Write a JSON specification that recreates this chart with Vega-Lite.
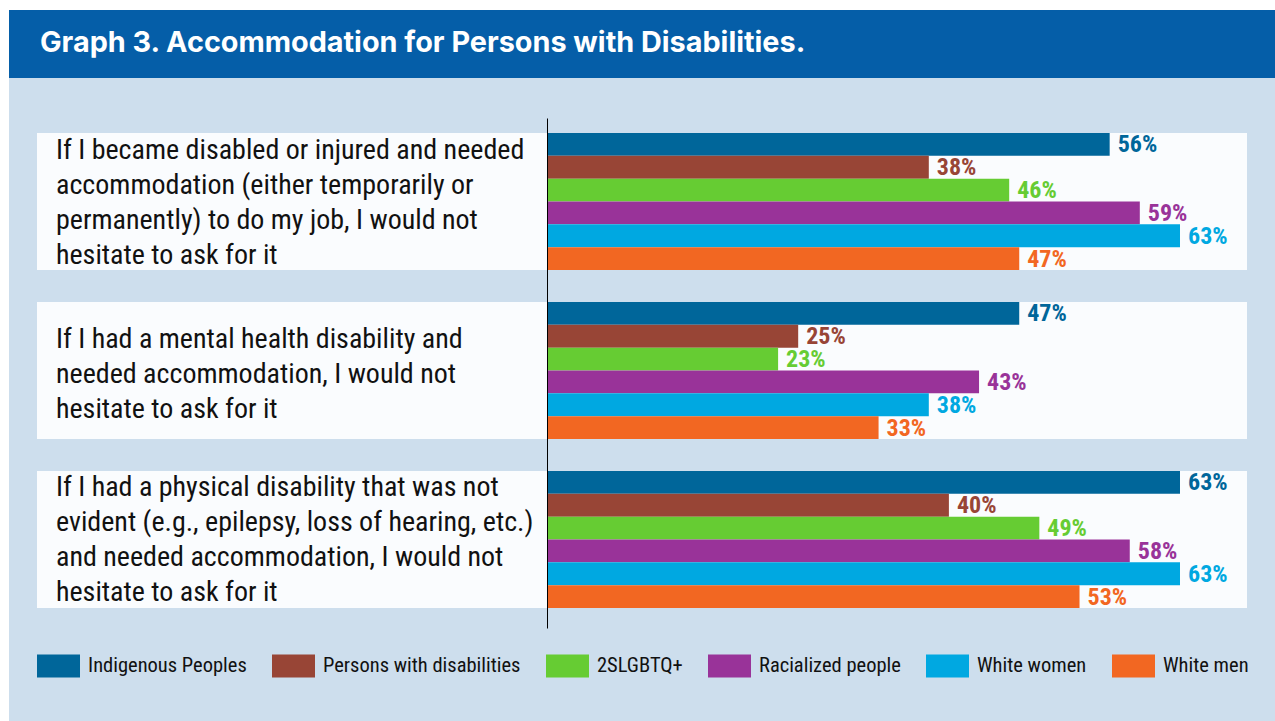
{
  "$schema": "https://vega.github.io/schema/vega-lite/v6.json",
  "autosize": {"type": "pad"},
  "padding": {"left": 9, "top": 10, "right": 0, "bottom": 0},
  "background": "#ffffff",
  "spacing": 0,
  "datasets": {
    "questions": [
      {"id": "q1", "question": "If I became disabled or injured and needed\naccommodation (either temporarily or\npermanently) to do my job, I would not\nhesitate to ask for it"},
      {"id": "q2", "question": "If I had a mental health disability and\nneeded accommodation, I would not\nhesitate to ask for it"},
      {"id": "q3", "question": "If I had a physical disability that was not\nevident (e.g., epilepsy, loss of hearing, etc.)\nand needed accommodation, I would not\nhesitate to ask for it"}
    ],
    "results": [
      {"question": "If I became disabled or injured and needed\naccommodation (either temporarily or\npermanently) to do my job, I would not\nhesitate to ask for it", "group": "Indigenous Peoples", "value": 0.56},
      {"question": "If I became disabled or injured and needed\naccommodation (either temporarily or\npermanently) to do my job, I would not\nhesitate to ask for it", "group": "Persons with disabilities", "value": 0.38},
      {"question": "If I became disabled or injured and needed\naccommodation (either temporarily or\npermanently) to do my job, I would not\nhesitate to ask for it", "group": "2SLGBTQ+", "value": 0.46},
      {"question": "If I became disabled or injured and needed\naccommodation (either temporarily or\npermanently) to do my job, I would not\nhesitate to ask for it", "group": "Racialized people", "value": 0.59},
      {"question": "If I became disabled or injured and needed\naccommodation (either temporarily or\npermanently) to do my job, I would not\nhesitate to ask for it", "group": "White women", "value": 0.63},
      {"question": "If I became disabled or injured and needed\naccommodation (either temporarily or\npermanently) to do my job, I would not\nhesitate to ask for it", "group": "White men", "value": 0.47},
      {"question": "If I had a mental health disability and\nneeded accommodation, I would not\nhesitate to ask for it", "group": "Indigenous Peoples", "value": 0.47},
      {"question": "If I had a mental health disability and\nneeded accommodation, I would not\nhesitate to ask for it", "group": "Persons with disabilities", "value": 0.25},
      {"question": "If I had a mental health disability and\nneeded accommodation, I would not\nhesitate to ask for it", "group": "2SLGBTQ+", "value": 0.23},
      {"question": "If I had a mental health disability and\nneeded accommodation, I would not\nhesitate to ask for it", "group": "Racialized people", "value": 0.43},
      {"question": "If I had a mental health disability and\nneeded accommodation, I would not\nhesitate to ask for it", "group": "White women", "value": 0.38},
      {"question": "If I had a mental health disability and\nneeded accommodation, I would not\nhesitate to ask for it", "group": "White men", "value": 0.33},
      {"question": "If I had a physical disability that was not\nevident (e.g., epilepsy, loss of hearing, etc.)\nand needed accommodation, I would not\nhesitate to ask for it", "group": "Indigenous Peoples", "value": 0.63},
      {"question": "If I had a physical disability that was not\nevident (e.g., epilepsy, loss of hearing, etc.)\nand needed accommodation, I would not\nhesitate to ask for it", "group": "Persons with disabilities", "value": 0.40},
      {"question": "If I had a physical disability that was not\nevident (e.g., epilepsy, loss of hearing, etc.)\nand needed accommodation, I would not\nhesitate to ask for it", "group": "2SLGBTQ+", "value": 0.49},
      {"question": "If I had a physical disability that was not\nevident (e.g., epilepsy, loss of hearing, etc.)\nand needed accommodation, I would not\nhesitate to ask for it", "group": "Racialized people", "value": 0.58},
      {"question": "If I had a physical disability that was not\nevident (e.g., epilepsy, loss of hearing, etc.)\nand needed accommodation, I would not\nhesitate to ask for it", "group": "White women", "value": 0.63},
      {"question": "If I had a physical disability that was not\nevident (e.g., epilepsy, loss of hearing, etc.)\nand needed accommodation, I would not\nhesitate to ask for it", "group": "White men", "value": 0.53}
    ]
  },
  "vconcat": [
    {
      "width": 1266,
      "height": 68,
      "view": {"fill": "#055EA8", "stroke": null},
      "data": {"values": [{"title": "Graph 3. Accommodation for Persons with Disabilities."}]},
      "mark": {"type": "text", "align": "left", "baseline": "middle", "x": 31, "dy": -1, "font": "Inter", "fontWeight": "bold", "fontSize": 28.8, "color": "#ffffff"},
      "encoding": {"text": {"field": "title", "type": "nominal"}}
    },
    {
      "width": 1266,
      "height": 643,
      "view": {"fill": "#CDDEED", "stroke": null},
      "encoding": {
        "y": {
          "field": "question", "type": "nominal", "sort": null,
          "scale": {"range": [40, 550], "paddingInner": 0.1893, "paddingOuter": 0.1036, "align": 0.4286},
          "axis": {"orient": "left", "offset": -538, "domain": true, "domainColor": "#000000", "domainWidth": 1, "ticks": false, "labels": false, "title": null, "grid": false, "zindex": 1}
        }
      },
      "layer": [
        {
          "data": {"name": "questions"},
          "mark": {"type": "bar", "color": "#FAFCFE", "cornerRadius": 0},
          "encoding": {
            "x": {"datum": -0.5076, "type": "quantitative", "scale": {"domain": [-0.53545, 0.72455], "nice": false, "zero": false}, "axis": null},
            "x2": {"datum": 0.6967}
          }
        },
        {
          "data": {"name": "questions"},
          "transform": [{"filter": "datum.id != 'q2'"}],
          "mark": {"type": "text", "align": "left", "baseline": "middle", "dy": -51, "lineBreak": "\n", "lineHeight": 35, "font": "'Roboto Condensed', 'DejaVu Sans Condensed', 'Liberation Sans Narrow', 'Arial Narrow', Roboto", "fontSize": 28, "color": "#111111"},
          "encoding": {
            "x": {"datum": -0.4887, "type": "quantitative"},
            "text": {"field": "question", "type": "nominal"}
          }
        },
        {
          "data": {"name": "questions"},
          "transform": [{"filter": "datum.id == 'q2'"}],
          "mark": {"type": "text", "align": "left", "baseline": "middle", "dy": -30, "lineBreak": "\n", "lineHeight": 35, "font": "'Roboto Condensed', 'DejaVu Sans Condensed', 'Liberation Sans Narrow', 'Arial Narrow', Roboto", "fontSize": 28, "color": "#111111"},
          "encoding": {
            "x": {"datum": -0.4887, "type": "quantitative"},
            "text": {"field": "question", "type": "nominal"}
          }
        },
        {
          "data": {"name": "results"},
          "mark": {"type": "bar"},
          "encoding": {
            "x": {"field": "value", "type": "quantitative"},
            "yOffset": {"field": "group", "type": "nominal", "sort": null, "scale": {"paddingInner": 0, "paddingOuter": 0}},
            "color": {
              "field": "group", "type": "nominal",
              "scale": {
                "domain": ["Indigenous Peoples", "Persons with disabilities", "2SLGBTQ+", "Racialized people", "White women", "White men"],
                "range": ["#00669A", "#984536", "#66CC33", "#993399", "#00A8E1", "#F26722"]
              },
              "legend": {
                "orient": "none", "direction": "horizontal", "legendX": 28, "legendY": 634,
                "title": null,
                "symbolType": "M-1,-0.535H1V0.535H-1Z", "symbolSize": 1849, "symbolStrokeWidth": 0, "symbolOpacity": 1,
                "labelFont": "'Roboto Condensed', 'DejaVu Sans Condensed', 'Liberation Sans Narrow', 'Arial Narrow', Roboto", "labelFontSize": 20.5, "labelColor": "#111111",
                "labelOffset": 8, "columnPadding": 25, "labelLimit": 400
              }
            }
          }
        },
        {
          "data": {"name": "results"},
          "mark": {"type": "text", "align": "left", "baseline": "middle", "dx": 8, "dy": 1, "font": "'Roboto Condensed', 'DejaVu Sans Condensed', 'Liberation Sans Narrow', 'Arial Narrow', Roboto", "fontWeight": "bold", "fontSize": 24},
          "encoding": {
            "x": {"field": "value", "type": "quantitative"},
            "yOffset": {"field": "group", "type": "nominal", "sort": null},
            "color": {"field": "group", "type": "nominal"},
            "text": {"field": "value", "type": "quantitative", "format": ".0%"}
          }
        }
      ]
    }
  ]
}
